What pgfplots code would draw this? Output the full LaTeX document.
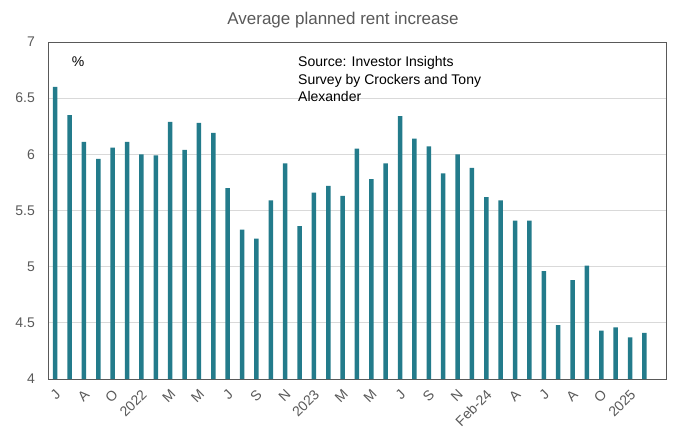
\documentclass[border=0pt]{standalone}
\usepackage{pgfplots}
\pgfplotsset{compat=1.18}
\usepackage{fontspec}
\setmainfont{Liberation Sans}
\definecolor{barc}{HTML}{237B8B}
\definecolor{txtg}{HTML}{595959}
\definecolor{gridc}{HTML}{D9D9D9}
\begin{document}
\begin{tikzpicture}
\useasboundingbox (0,0) rectangle (673pt,429pt);
\begin{axis}[
  at={(48pt,50pt)}, anchor=south west,
  scale only axis, width=618pt, height=337pt,
  xmin=-0.5, xmax=42.5, ymin=4, ymax=7,
  ybar, bar width=4.5pt,
  ytick={4,4.5,5,5.5,6,6.5,7},
  xtick={0,2,...,40},
  xticklabels={J,A,O,2022,M,M,J,S,N,2023,M,M,J,S,N,Feb-24,A,J,A,O,2025},
  major tick length=0pt,
  ymajorgrids, grid style={gridc, line width=0.8pt},
  axis line style={black!65, line width=0.8pt},
  /pgf/number format/assume math mode=true,
  tick label style={font=\fontsize{14}{16}\selectfont, text=txtg},
  yticklabel style={inner sep=0pt, xshift=-13pt},
  xticklabel style={inner sep=0pt, xshift=3pt, yshift=-13pt, rotate=45, anchor=east},
  clip=true,
]
\addplot[fill=barc, draw=none] coordinates {
(0,6.60) (1,6.35) (2,6.11) (3,5.96) (4,6.06) (5,6.11) (6,6.00) (7,5.99)
(8,6.29) (9,6.04) (10,6.28) (11,6.19) (12,5.70) (13,5.33) (14,5.25) (15,5.59)
(16,5.92) (17,5.36) (18,5.66) (19,5.72) (20,5.63) (21,6.05) (22,5.78) (23,5.92)
(24,6.34) (25,6.14) (26,6.07) (27,5.83) (28,6.00) (29,5.88) (30,5.62) (31,5.59)
(32,5.41) (33,5.41) (34,4.96) (35,4.48) (36,4.88) (37,5.01) (38,4.43) (39,4.46)
(40,4.37) (41,4.41)
};
\end{axis}
\node[anchor=base, text=txtg, font=\fontsize{17}{19}\selectfont, inner sep=0pt] at (343pt,404pt) {Average planned rent increase};
\node[anchor=center, font=\fontsize{14}{16}\selectfont, inner sep=0pt] at (78pt,367pt) {\%};
\node[anchor=base west, font=\fontsize{14}{16}\selectfont, inner sep=0pt] at (298pt,362pt) {Source: Investor Insights};
\node[anchor=base west, font=\fontsize{14}{16}\selectfont, inner sep=0pt] at (298pt,344.5pt) {Survey by Crockers and Tony};
\node[anchor=base west, font=\fontsize{14}{16}\selectfont, inner sep=0pt] at (298pt,327pt) {Alexander};
\end{tikzpicture}
\end{document}
